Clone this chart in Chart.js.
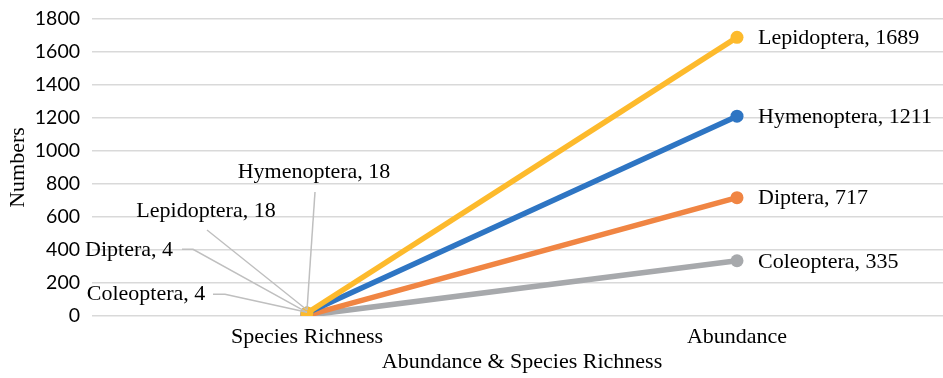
<!DOCTYPE html>
<html>
<head>
<meta charset="utf-8">
<script src="https://cdn.jsdelivr.net/npm/chart.js@4.4.1/dist/chart.umd.min.js"></script>
<style>
  html, body { margin: 0; padding: 0; background: #ffffff; }
  #wrap { width: 943px; height: 378px; overflow: hidden; position: relative; }
  #chart { display: block; }
</style>
</head>
<body>
<div id="wrap"><canvas id="chart" width="960" height="378"></canvas></div>
<script>
// Insect orders sampled: species richness and abundance
const categories = ['Species Richness', 'Abundance'];
const orders = ['Lepidoptera', 'Hymenoptera', 'Diptera', 'Coleoptera'];
const lepidoptera = [18, 1689];
const hymenoptera = [18, 1211];
const diptera = [4, 717];
const coleoptera = [4, 335];
const yTicks = [0, 200, 400, 600, 800, 1000, 1200, 1400, 1600, 1800];

const colors = ['#FDBA2C', '#2E75C3', '#F08543', '#A7A9AC'];
const seriesValues = [lepidoptera, hymenoptera, diptera, coleoptera];

const serif = "'Liberation Serif', 'Times New Roman', serif";

// Callout layout for the crowded first category: text centre and leader path,
// as pixel offsets from the point the callout belongs to.
const firstPointCallouts = {
  Lepidoptera: { text: [-101, -102], path: [[-100, -83]] },
  Hymenoptera: { text: [7, -141], path: [[8, -121]] },
  Diptera:     { text: [-178, -65], path: [[-125, -66], [-114, -66]] },
  Coleoptera:  { text: [-161, -21], path: [[-94, -21], [-82, -21]] }
};

const valueLabels = {
  id: 'valueLabels',
  afterDatasetsDraw(chart) {
    const ctx = chart.ctx;
    ctx.save();
    ctx.font = '22px ' + serif;
    ctx.fillStyle = '#000000';
    chart.data.datasets.forEach((ds, di) => {
      const meta = chart.getDatasetMeta(di);
      // last category: label to the right of the marker
      const pLast = meta.data[1];
      ctx.textAlign = 'left';
      ctx.textBaseline = 'middle';
      ctx.fillText(ds.label + ', ' + ds.data[1], pLast.x + 21, pLast.y + 1);

      // first category: callout with leader line
      const p0 = meta.data[0];
      const c = firstPointCallouts[ds.label];
      ctx.strokeStyle = '#BFBFBF';
      ctx.lineWidth = 1.5;
      ctx.beginPath();
      ctx.moveTo(p0.x + c.path[0][0], p0.y + c.path[0][1]);
      for (let k = 1; k < c.path.length; k++) {
        ctx.lineTo(p0.x + c.path[k][0], p0.y + c.path[k][1]);
      }
      ctx.lineTo(p0.x, p0.y - 3);
      ctx.stroke();
      ctx.textAlign = 'center';
      ctx.fillText(ds.label + ', ' + ds.data[0], p0.x + c.text[0], p0.y + c.text[1]);
    });
    ctx.restore();
  }
};

new Chart(document.getElementById('chart'), {
  type: 'line',
  data: {
    labels: categories,
    datasets: orders.map((name, i) => ({
      label: name,
      data: seriesValues[i],
      borderColor: colors[i],
      backgroundColor: colors[i],
      borderWidth: 5.5,
      pointRadius: 6.5,
      pointHoverRadius: 6.5,
      pointBorderWidth: 0,
      tension: 0,
      fill: false
    }))
  },
  options: {
    responsive: false,
    animation: false,
    events: [],
    layout: { padding: { top: 19, right: 8, bottom: 0, left: 0 } },
    plugins: {
      legend: { display: false },
      tooltip: { enabled: false },
      title: { display: false }
    },
    scales: {
      x: {
        type: 'category',
        offset: true,
        grid: { display: false, drawTicks: false },
        border: { display: false },
        ticks: {
          color: '#000000',
          padding: 8,
          maxRotation: 0,
          font: { family: serif, size: 22 }
        },
        title: {
          display: true,
          text: 'Abundance & Species Richness',
          color: '#000000',
          font: { family: serif, size: 22 },
          padding: { top: 0, bottom: 3 }
        },
        afterFit(scale) { scale.height = 62; }
      },
      y: {
        min: 0,
        max: 1800,
        afterBuildTicks(scale) { scale.ticks = yTicks.map(v => ({ value: v })); },
        grid: { color: '#D9D9D9', lineWidth: 1.5, drawTicks: false },
        border: { display: false },
        ticks: {
          color: '#000000',
          padding: 12,
          font: { family: "Lato, 'Open Sans', sans-serif", size: 19.5 },
          callback: (v) => String(v)
        },
        title: {
          display: true,
          text: 'Numbers',
          color: '#000000',
          font: { family: serif, size: 22 },
          padding: { top: 5, bottom: 0 }
        },
        afterFit(scale) {
          scale.width = 92;
          scale.paddingTop = 0;
          scale.paddingBottom = 0;
        }
      }
    }
  },
  plugins: [valueLabels]
});
</script>
</body>
</html>
